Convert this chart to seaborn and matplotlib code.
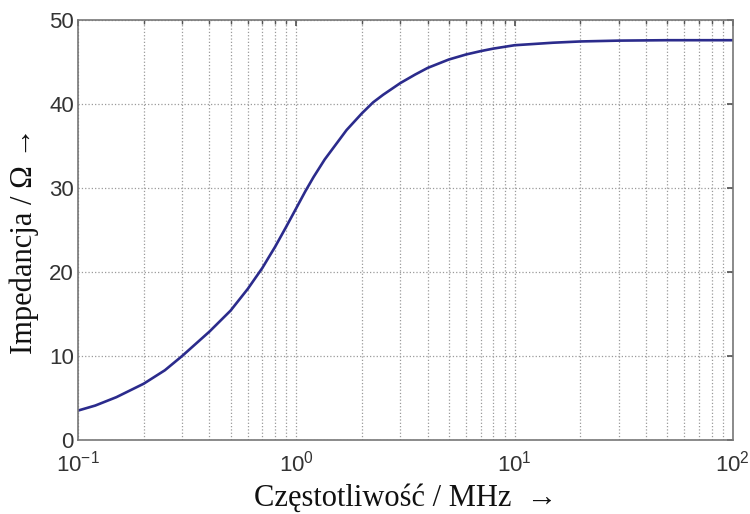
import seaborn as sns
import matplotlib.pyplot as plt
import matplotlib.ticker as mticker
import pandas as pd

# values
freq_mhz = [0.1, 0.12, 0.15, 0.2, 0.25, 0.3, 0.4, 0.5, 0.6, 0.7, 0.75, 0.8, 0.9,
            1.0, 1.1, 1.2, 1.35, 1.5, 1.7, 2.0, 2.25, 2.5, 3.0, 3.5, 4.0,
            5.0, 6.0, 7.0, 8.0, 10.0, 15.0, 20.0, 30.0, 50.0, 100.0]
impedance = [3.5, 4.1, 5.1, 6.7, 8.3, 10.0, 12.9, 15.4, 18.0, 20.5, 21.8, 23.0, 25.4,
             27.6, 29.6, 31.3, 33.4, 35.0, 36.9, 38.9, 40.2, 41.1, 42.5, 43.5, 44.3,
             45.3, 45.9, 46.3, 46.6, 47.0, 47.3, 47.45, 47.55, 47.6, 47.6]
y_ticks = [0, 10, 20, 30, 40, 50]
x_label = "Częstotliwość / MHz  →"
y_label = "Impedancja / Ω →"

df = pd.DataFrame({"f": freq_mhz, "z": impedance})

sns.set_theme(style="white")
plt.rcParams["font.family"] = ["Liberation Sans", "DejaVu Sans"]
plt.rcParams["mathtext.fontset"] = "custom"
plt.rcParams["mathtext.rm"] = "Liberation Sans"
plt.rcParams["mathtext.it"] = "Liberation Sans"

fig = plt.figure(figsize=(7.5, 5.14), dpi=100)
ax = fig.add_axes([0.104, 0.144, 0.873, 0.817])

sns.lineplot(data=df, x="f", y="z", ax=ax, color="#2b2b8c", linewidth=1.9)

ax.set_xscale("log")
ax.set_xlim(0.1, 100)
ax.set_ylim(0, 50)
ax.set_yticks(y_ticks)
ax.xaxis.set_major_locator(mticker.LogLocator(base=10, numticks=10))
ax.xaxis.set_minor_locator(mticker.LogLocator(base=10, subs=range(2, 10), numticks=20))
ax.xaxis.set_minor_formatter(mticker.NullFormatter())

ax.grid(True, which="major", axis="both", linestyle=":", color="#9a9a9a", linewidth=0.9)
ax.grid(True, which="minor", axis="x", linestyle=":", color="#9a9a9a", linewidth=0.9)

ax.tick_params(axis="both", which="both", direction="in", colors="#555555",
               labelcolor="#333333", labelsize=16, top=True, right=True)
ax.tick_params(axis="both", which="major", length=4)
ax.tick_params(axis="x", which="both", pad=8)
ax.tick_params(axis="y", which="both", pad=3)
ax.tick_params(axis="x", which="minor", length=3)
for s in ax.spines.values():
    s.set_color("#777777")
    s.set_linewidth(1.2)

serif = ["Liberation Serif", "DejaVu Serif"]
ax.set_xlabel(x_label, family=serif, fontsize=22, color="#111111")
ax.set_ylabel(y_label, family=serif, fontsize=22, color="#111111")
ax.xaxis.set_label_coords(0.5, -0.104)
ax.yaxis.set_label_coords(-0.060, 0.475)

fig.savefig("out.png", dpi=100)
